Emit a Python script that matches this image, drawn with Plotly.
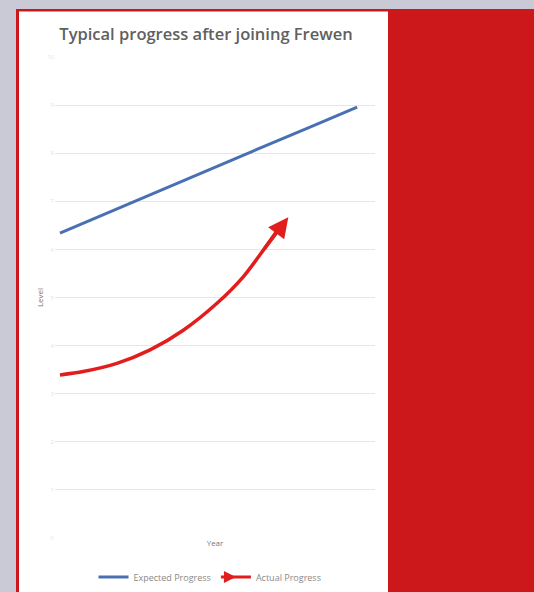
import plotly.graph_objects as go

# ---- data ----
years = [0, 1, 2, 3, 4, 5, 6]
expected_progress = [6.34, 6.78, 7.21, 7.65, 8.09, 8.52, 8.96]

actual_x = [0.0, 0.47, 1.15, 1.82, 2.49, 3.17, 3.70, 4.11, 4.44, 4.61]
actual_progress = [3.39, 3.46, 3.63, 3.91, 4.32, 4.88, 5.43, 5.99, 6.47, 6.67]

y_ticks = [0, 1, 2, 3, 4, 5, 6, 7, 8, 9, 10]

title_text = "Typical progress after joining Frewen"
x_title = "Year"
y_title = "Level"

BLUE = "#4a70b4"
RED = "#e21d1d"
FRAME_RED = "#cc171b"
BG_GREY = "#c9cad6"

W, H = 534, 592
PL, PR, PT, PB = 55, 375, 57, 538   # plot-area pixel box
PW, PH = PR - PL, PB - PT


def px_x(p):
    return (p - PL) / PW


def px_y(p):
    return (PB - p) / PH


fig = go.Figure()

fig.add_trace(go.Scatter(
    x=years, y=expected_progress, mode="lines", name="Expected Progress",
    line=dict(color=BLUE, width=3),
))

fig.add_trace(go.Scatter(
    x=actual_x[:-1], y=actual_progress[:-1], mode="lines", name="Actual Progress",
    line=dict(color=RED, width=3.5, shape="spline", smoothing=0.8),
    showlegend=False,
))
# arrow head at the end of the actual-progress curve
fig.add_annotation(
    x=actual_x[-1], y=actual_progress[-1], xref="x", yref="y",
    ax=actual_x[-3], ay=actual_progress[-3], axref="x", ayref="y",
    text="", showarrow=True, arrowhead=2, arrowsize=1.15, arrowwidth=3.5,
    arrowcolor=RED, standoff=0,
)
# legend entry for the arrow series
fig.add_trace(go.Scatter(
    x=[None], y=[None], mode="lines+markers", name="Actual Progress",
    line=dict(color=RED, width=3),
    marker=dict(symbol="arrow-right", size=12, color=RED),
))

# page decoration: red frame around white card, red panel to the right
shapes = [
    dict(type="rect", xref="paper", yref="paper", layer="below",
         x0=px_x(16), x1=px_x(W), y0=px_y(H), y1=px_y(9),
         fillcolor=FRAME_RED, line=dict(width=0)),
    dict(type="rect", xref="paper", yref="paper", layer="below",
         x0=px_x(19), x1=px_x(388), y0=px_y(H), y1=px_y(11.5),
         fillcolor="white", line=dict(width=0)),
]

fig.update_layout(
    width=W, height=H,
    margin=dict(l=PL, r=W - PR, t=PT, b=H - PB),
    paper_bgcolor=BG_GREY,
    plot_bgcolor="rgba(0,0,0,0)",
    shapes=shapes,
    title=dict(text=title_text, x=206 / W, xref="container", xanchor="center",
               y=1 - 34 / H, yref="container", yanchor="middle",
               font=dict(family="Open Sans", size=16.5, weight=600, color="#606060")),
    font=dict(family="Open Sans", size=8, color="#8a8a8a"),
    xaxis=dict(range=[-0.1, 6.36], showgrid=False, zeroline=False,
               showticklabels=False, showline=False, automargin=False,
               title=dict(text=x_title, standoff=2, font=dict(size=8, color="#777777"))),
    yaxis=dict(range=[0, 10], tickvals=y_ticks, showgrid=True, gridcolor="#e6e6e6",
               gridwidth=1, zeroline=False, showline=False, automargin=False,
               tickfont=dict(size=6, color="#e4e4e4"), ticks="",
               title=dict(text=y_title, standoff=2, font=dict(size=8, color="#777777"))),
    legend=dict(orientation="h", x=210 / W, xref="container", xanchor="center",
                y=1 - 577 / H, yref="container", yanchor="middle",
                font=dict(size=9, color="#8a8a8a"), itemwidth=30,
                bgcolor="rgba(0,0,0,0)"),
)

fig.write_html("out.html",
               config={"displayModeBar": False},
               post_script="document.body.style.margin='0';document.body.style.padding='0';")
